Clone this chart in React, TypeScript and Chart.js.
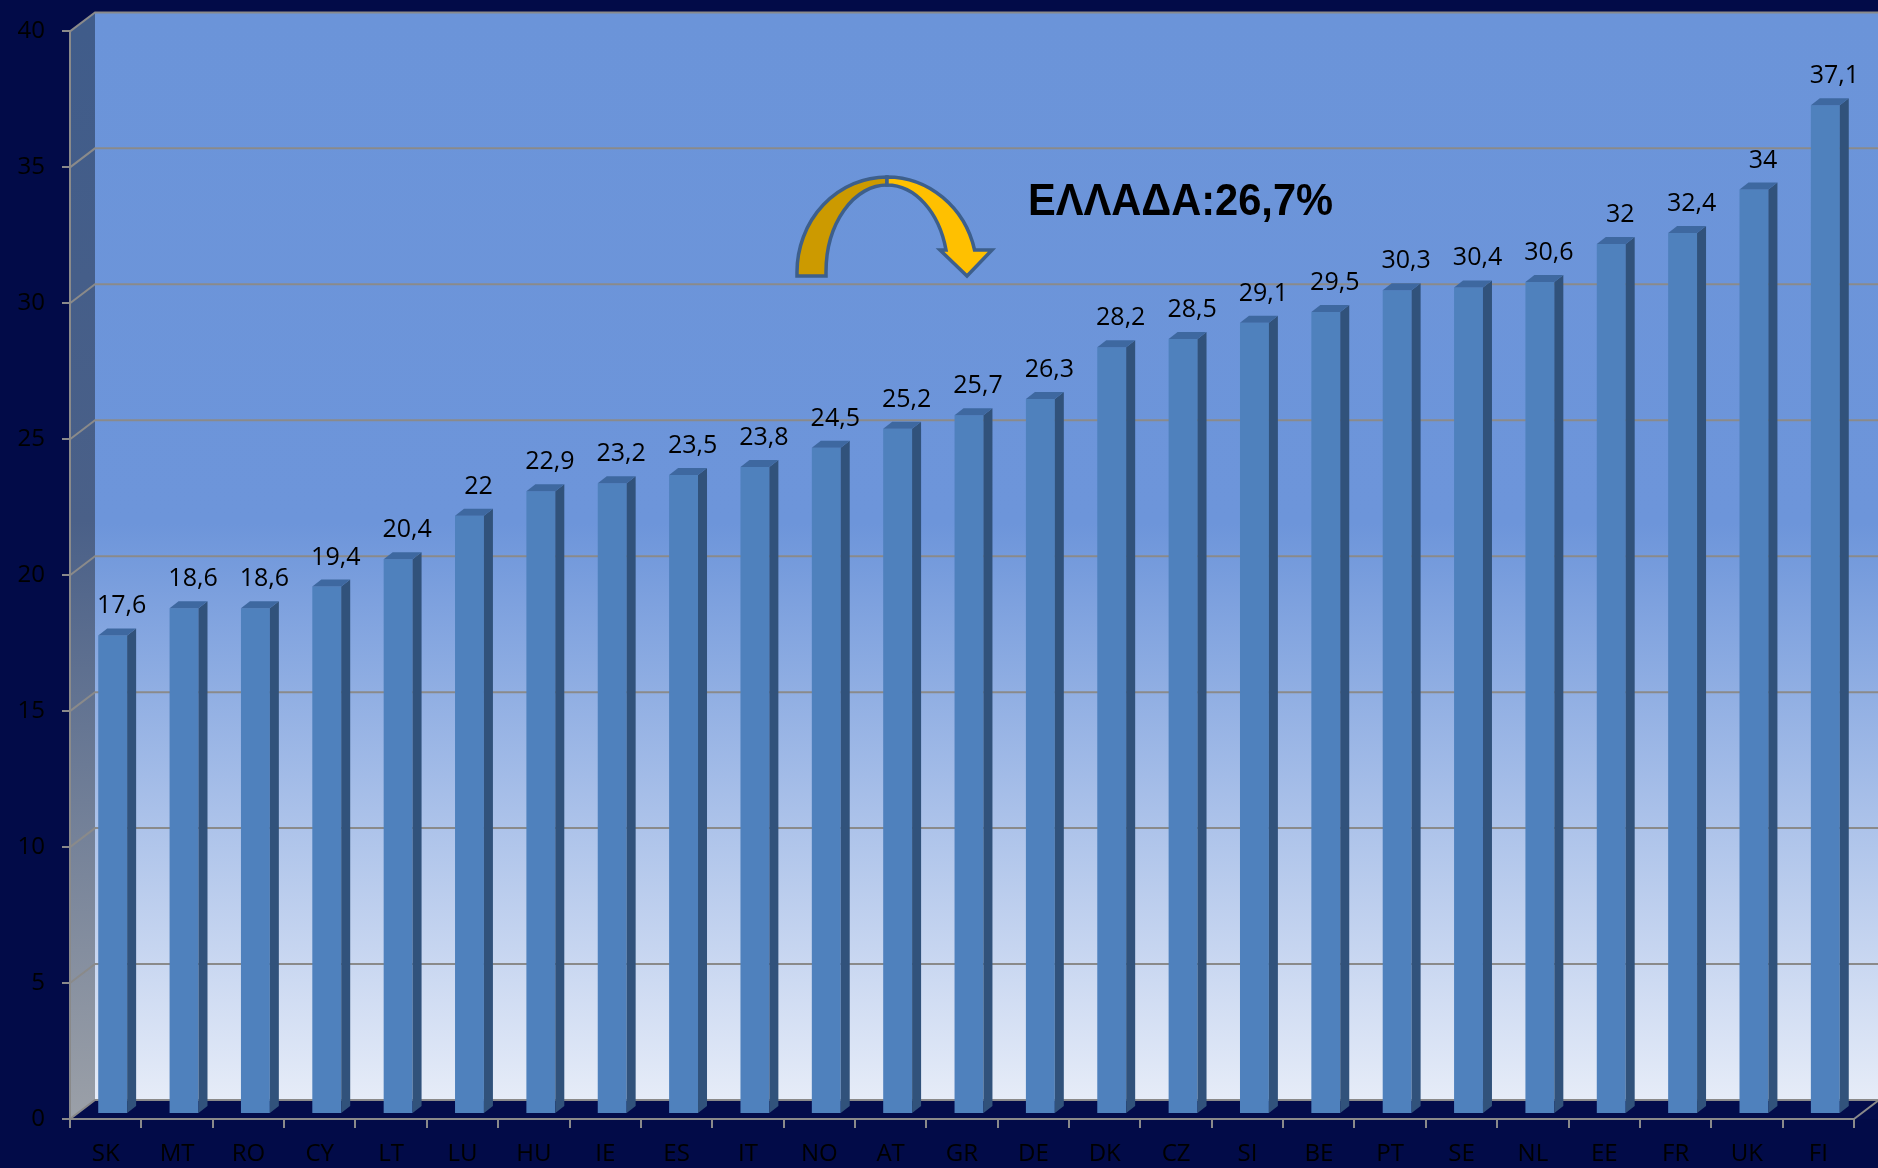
import React, { useEffect, useRef } from "react";
import { Chart, registerables } from "chart.js";

Chart.register(...registerables);

const categories = ["SK", "MT", "RO", "CY", "LT", "LU", "HU", "IE", "ES", "IT", "NO", "AT", "GR", "DE", "DK", "CZ", "SI", "BE", "PT", "SE", "NL", "EE", "FR", "UK", "FI"];
const values = [17.6, 18.6, 18.6, 19.4, 20.4, 22, 22.9, 23.2, 23.5, 23.8, 24.5, 25.2, 25.7, 26.3, 28.2, 28.5, 29.1, 29.5, 30.3, 30.4, 30.6, 32, 32.4, 34, 37.1];
const yMin = 0;
const yMax = 40;
const yStep = 5;
const annotationText = "ΕΛΛΑΔΑ:26,7%";

const BG = "#020b48";
const GRID = "#8a8a8a";
const DX = 25;
const DY = -19;
const BDX = 7;
const BDY = -5;
const SX = 9;
const SY = -7;
const FONT = "'Open Sans', 'Noto Sans', sans-serif";

const fmt = (v: number) => String(v).replace(".", ",");

const threeD = {
  id: "threeD",
  beforeDraw(chart: any) {
    const ctx: CanvasRenderingContext2D = chart.ctx;
    const ca = chart.chartArea;
    const y = chart.scales.y;
    const W = chart.width;
    ctx.save();
    ctx.fillStyle = BG;
    ctx.fillRect(0, 0, W, chart.height);

    const bt = ca.top + DY;
    const bb = ca.bottom + DY;
    const g = ctx.createLinearGradient(0, bt, 0, bb);
    g.addColorStop(0, "#6b94d9");
    g.addColorStop(0.47, "#6d95da");
    g.addColorStop(1, "#e6ecf8");
    ctx.fillStyle = g;
    ctx.fillRect(ca.left + DX, bt, W - (ca.left + DX), bb - bt);

    const sg = ctx.createLinearGradient(0, ca.top, 0, ca.bottom);
    sg.addColorStop(0, "#405c8a");
    sg.addColorStop(0.45, "#4a6088");
    sg.addColorStop(1, "#9ba0a8");
    ctx.fillStyle = sg;
    ctx.beginPath();
    ctx.moveTo(ca.left, ca.top);
    ctx.lineTo(ca.left + DX, bt);
    ctx.lineTo(ca.left + DX, bb);
    ctx.lineTo(ca.left, ca.bottom);
    ctx.closePath();
    ctx.fill();

    ctx.fillStyle = "#030c4b";
    ctx.beginPath();
    ctx.moveTo(ca.left, ca.bottom);
    ctx.lineTo(ca.left + DX, bb);
    ctx.lineTo(W, bb);
    ctx.lineTo(W, ca.bottom);
    ctx.closePath();
    ctx.fill();

    ctx.strokeStyle = GRID;
    ctx.lineWidth = 2;
    y.ticks.forEach((t: any) => {
      const yy = y.getPixelForValue(t.value);
      ctx.beginPath();
      ctx.moveTo(ca.left, yy);
      ctx.lineTo(ca.left + DX, yy + DY);
      ctx.lineTo(W, yy + DY);
      ctx.stroke();
    });
    ctx.beginPath();
    ctx.moveTo(ca.right, ca.bottom);
    ctx.lineTo(ca.right + DX, ca.bottom + DY);
    ctx.stroke();
    ctx.restore();
  },
  beforeDatasetsDraw(chart: any) {
    chart.ctx.save();
    chart.ctx.translate(BDX, BDY);
  },
  afterDatasetsDraw(chart: any) {
    const ctx: CanvasRenderingContext2D = chart.ctx;
    const meta = chart.getDatasetMeta(0);
    meta.data.forEach((el: any, i: number) => {
      const { x, y, width, base } = el.getProps(["x", "y", "width", "base"], true);
      const l = x - width / 2;
      const r = x + width / 2;
      ctx.fillStyle = "#31527b";
      ctx.beginPath();
      ctx.moveTo(r, y);
      ctx.lineTo(r + SX, y + SY);
      ctx.lineTo(r + SX, base + SY);
      ctx.lineTo(r, base);
      ctx.closePath();
      ctx.fill();
      ctx.fillStyle = "#3e68a0";
      ctx.beginPath();
      ctx.moveTo(l, y);
      ctx.lineTo(l + SX, y + SY);
      ctx.lineTo(r + SX, y + SY);
      ctx.lineTo(r, y);
      ctx.closePath();
      ctx.fill();
      ctx.fillStyle = "#000000";
      ctx.font = `25px ${FONT}`;
      ctx.textAlign = "center";
      ctx.textBaseline = "alphabetic";
      ctx.fillText(fmt(values[i]), x + 9, y - 22);
    });
    ctx.restore();
  },
  afterDraw(chart: any) {
    const ctx: CanvasRenderingContext2D = chart.ctx;
    ctx.save();
    const cx = 887, cy = 272, orx = 90, ory = 95, irx = 61, iry = 87;
    const footY = 276, headY = 250, tipX = 967, tipY = 276, wingL = 940, wingR = 992;
    const aO = Math.asin((cy - headY) / ory);
    const aI = Math.asin((cy - headY) / iry);
    ctx.lineWidth = 3.5;
    ctx.strokeStyle = "#3d5f8c";
    ctx.lineJoin = "miter";
    ctx.beginPath();
    ctx.moveTo(cx - orx, footY);
    ctx.lineTo(cx - orx, cy);
    ctx.ellipse(cx, cy, orx, ory, 0, Math.PI, 1.5 * Math.PI);
    ctx.ellipse(cx, cy, irx, iry, 0, 1.5 * Math.PI, Math.PI, true);
    ctx.lineTo(cx - irx, footY);
    ctx.closePath();
    ctx.fillStyle = "#cc9a00";
    ctx.fill();
    ctx.stroke();

    ctx.beginPath();
    ctx.ellipse(cx, cy, orx, ory, 0, 1.5 * Math.PI, 2 * Math.PI - aO);
    ctx.lineTo(wingR, headY);
    ctx.lineTo(tipX, tipY);
    ctx.lineTo(wingL, headY);
    ctx.ellipse(cx, cy, irx, iry, 0, 2 * Math.PI - aI, 1.5 * Math.PI, true);
    ctx.closePath();
    ctx.fillStyle = "#ffc000";
    ctx.fill();
    ctx.stroke();

    ctx.font = "bold 45px 'Liberation Sans', Arial, sans-serif";
    ctx.fillStyle = "#000000";
    ctx.textAlign = "left";
    ctx.textBaseline = "alphabetic";
    const w = ctx.measureText(annotationText).width;
    ctx.translate(1028, 215);
    ctx.scale(305 / w, 1);
    ctx.fillText(annotationText, 0, 0);
    ctx.restore();
  },
};

export default function App() {
  const ref = useRef<HTMLCanvasElement | null>(null);
  useEffect(() => {
    document.body.style.margin = "0";
    document.body.style.background = BG;
    const canvas = ref.current;
    if (!canvas) return;
    const chart = new Chart(canvas, {
      type: "bar",
      data: {
        labels: categories,
        datasets: [
          {
            data: values,
            backgroundColor: "#4f81bd",
            borderWidth: 0,
            barPercentage: 0.405,
            categoryPercentage: 1,
          },
        ],
      },
      options: {
        responsive: false,
        animation: false,
        devicePixelRatio: 1,
        layout: { padding: { top: 27, right: 24, left: 0, bottom: 0 } },
        plugins: { legend: { display: false }, tooltip: { enabled: false } },
        scales: {
          x: {
            afterFit: (s: any) => {
              s.height = 49;
            },
            grid: { drawOnChartArea: false, offset: true, tickLength: 9, color: GRID, lineWidth: 2 },
            border: { display: true, color: GRID, width: 2 },
            ticks: { color: "#000000", font: { family: FONT, size: 24 }, padding: 12, maxRotation: 0, autoSkip: false },
          },
          y: {
            min: yMin,
            max: yMax,
            afterFit: (s: any) => {
              s.width = 70;
            },
            grid: { drawOnChartArea: false, tickLength: 8, color: GRID, lineWidth: 2 },
            border: { display: true, color: GRID, width: 2 },
            ticks: { stepSize: yStep, color: "#000000", font: { family: FONT, size: 24 }, padding: 17 },
          },
        },
      },
      plugins: [threeD],
    });
    return () => chart.destroy();
  }, []);
  return (
    <div style={{ width: 1878, height: 1168, position: "relative", overflow: "hidden" }}>
      <canvas ref={ref} width={1878} height={1168} style={{ display: "block", width: 1878, height: 1168 }} />
    </div>
  );
}
